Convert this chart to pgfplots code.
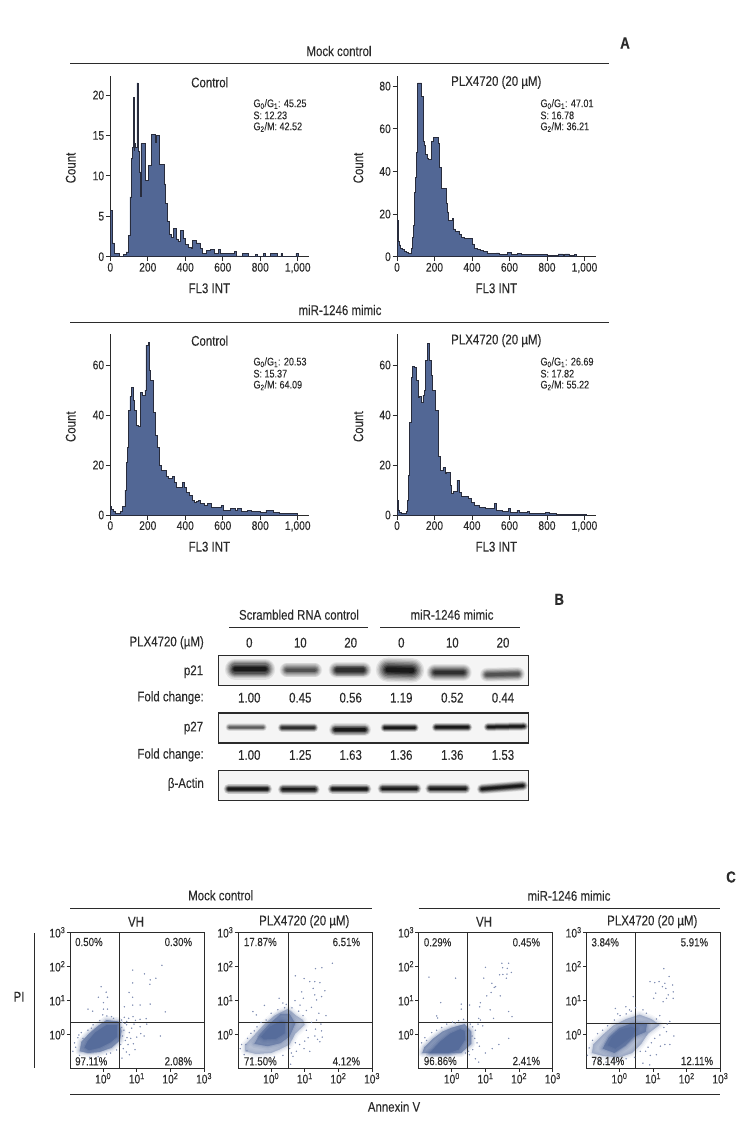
\documentclass[border=0pt]{standalone}
\usepackage{fontspec}
\setmainfont[FakeStretch=0.82,FakeBold=0.15]{Liberation Sans}
\usepackage{pgfplots}
\pgfplotsset{compat=1.18}
\definecolor{txtc}{HTML}{2b2b2b}
\definecolor{histfill}{HTML}{526795}
\definecolor{histline}{HTML}{282C3C}
\definecolor{dotc}{HTML}{7F8DB2}
\definecolor{corec}{HTML}{566C9B}

\newcommand\fs{\fontsize{14}{16}\selectfont}
\newcommand\ft{\fontsize{12.5}{14}\selectfont}
\newcommand\fm{\fontsize{11.8}{13}\selectfont}
\newcommand\fss{\fontsize{11}{12}\selectfont}
\newcommand\fb{\fontsize{16}{18}\selectfont\bfseries}
\newcommand\lab[4][]{\node[anchor=center,inner sep=0pt,text=txtc,font=\fs,#1] at ({(#2)*1pt},{-(#3)*1pt}) {#4};}
\newcommand\hrl[3]{\draw[txtc,line width=1pt] (#1pt,-#3pt) -- (#2pt,-#3pt);}
\newcommand\stats[5]{%
  \lab[anchor=west,font=\fss]{#1}{#2}{G\textsubscript{0}/G\textsubscript{1}: #3}%
  \lab[anchor=west,font=\fss]{#1}{#2+11.4}{S: #4}%
  \lab[anchor=west,font=\fss]{#1}{#2+23}{G\textsubscript{2}/M: #5}}

\pgfplotsset{
  hist/.style={
    scale only axis,width=198.7pt,anchor=origin,
    axis lines=left,axis line style={-,txtc,line width=0.9pt},
    tick align=outside,major tick length=4.5pt,tick style={txtc,line width=0.8pt},
    xmin=0,xmax=1060,ymin=0,
    xtick={0,200,400,600,800,1000},
    xticklabels={0,200,400,600,800,{1,000}},
    tick label style={font=\ft,text=txtc},
    /pgf/number format/assume math mode=true,
    every tick label/.append style={inner sep=1.5pt},
    clip=false},
  bar outline/.style={const plot,fill=histfill,draw=histline,line width=0.7pt},
  blot/.style={
    scale only axis,width=309.6pt,height=30pt,anchor=north west,
    xmin=0,xmax=929,ymin=0,ymax=90,y dir=reverse,
    xtick=\empty,ytick=\empty,
    axis line style={txtc,line width=1.1pt},
    axis background/.style={fill=black!4}},
  scat/.style={
    scale only axis,width=134pt,height=136pt,anchor=north west,
    xmin=-0.985,xmax=3,ymin=-1,ymax=3,
    xtick={0,1,2,3},ytick={0,1,2,3},
    xticklabels={10\textsuperscript{0},10\textsuperscript{1},10\textsuperscript{2},10\textsuperscript{3}},
    yticklabels={10\textsuperscript{0},10\textsuperscript{1},10\textsuperscript{2},10\textsuperscript{3}},
    tick pos=left,tick align=outside,major tick length=3.5pt,
    tick style={txtc,line width=0.8pt},
    axis line style={txtc,line width=0.9pt},
    tick label style={font=\ft,text=txtc,inner sep=1pt}},
  dots/.style={only marks,color=dotc,mark=*,mark size=0.48pt},
  quad/.style={txtc,line width=0.9pt,forget plot},
}
% soft band on a blot, stacked strokes
\newcommand\band[6]{%
  \addplot[line cap=round,#6,opacity=.08,line width=#5*1.75pt] coordinates {(#1,#2)(#3,#4)};
  \addplot[line cap=round,#6,opacity=.1,line width=#5*1.55pt] coordinates {(#1,#2)(#3,#4)};
  \addplot[line cap=round,#6,opacity=.13,line width=#5*1.35pt] coordinates {(#1,#2)(#3,#4)};
  \addplot[line cap=round,#6,opacity=.17,line width=#5*1.15pt] coordinates {(#1,#2)(#3,#4)};
  \addplot[line cap=round,#6,opacity=.22,line width=#5*.95pt] coordinates {(#1,#2)(#3,#4)};
  \addplot[line cap=round,#6,opacity=.28,line width=#5*.75pt] coordinates {(#1,#2)(#3,#4)};
  \addplot[line cap=round,#6,opacity=.35,line width=#5*.55pt] coordinates {(#1,#2)(#3,#4)};
  \addplot[line cap=round,#6,opacity=.5,line width=#5*.35pt] coordinates {(#1,#2)(#3,#4)};
}
% dense part of a dot cloud: polygon with a soft rim
\newcommand\cloud[2]{%
  \addplot[corec,fill=corec,line join=round,opacity=#1*.2,line width=8pt,forget plot] coordinates {#2} --cycle;
  \addplot[corec,fill=corec,line join=round,opacity=#1*.25,line width=5pt,forget plot] coordinates {#2} --cycle;
  \addplot[corec,fill=corec,line join=round,opacity=#1*.35,line width=2.5pt,forget plot] coordinates {#2} --cycle;
  \addplot[corec,fill=corec,draw=none,opacity=#1,forget plot] coordinates {#2} --cycle;
}

\begin{document}
\begin{tikzpicture}
\path[use as bounding box] (0pt,0pt) rectangle (750pt,-1140pt);

%% panel A
\lab{339}{51}{Mock control}
\hrl{70}{609}{63.7}
\lab[font=\fb]{625}{43}{A}

\begin{axis}[hist,at={(110.3pt,-256.7pt)},height=181pt,ymax=22.4,ytick={0,5,10,15,20}]
\addplot[bar outline] coordinates {
(0,5.7)(10,1.7)(22,0.4)(50,0)(70,0.3)(85,0.6)(98,2.6)(105,7.4)(112,12.2)(118,13.5)(122,19.7)(126,13.2)(129,14)(135,13.5)
(142,21.5)(149,13)(157,10.5)(160,7.5)(163,14)(186,9.4)(203,11.3)(220,15.1)(238,14.2)(247,15)(264,11.4)(286,9)(295,6.6)
(306,4.4)(315,2.8)(324,2.4)(337,3.5)(351,2.2)(362,1.9)(373,3.3)(390,2.3)(400,1.5)(415,1.2)(430,1.0)(440,2.0)(461,1.7)
(478,1.0)(490,0.4)(515,0.8)(535,0.9)(555,0.4)(575,0.9)(585,0.4)(660,0.7)(675,0.1)(705,0.4)(735,0)(775,0.3)(785,0)
(815,0.4)(825,0)(855,0.4)(890,0)(910,0.4)(920,0)(990,0.4)(1005,0)} \closedcycle;
\end{axis}
\lab{209.7}{82.3}{Control}
\stats{253.3}{104}{45.25}{12.23}{42.52}
\lab[rotate=90]{70.7}{168}{Count}
\lab{209.3}{288.3}{FL3 INT}

\begin{axis}[hist,at={(397pt,-256.7pt)},height=181pt,ymax=84.9,ytick={0,20,40,60,80}]
\addplot[bar outline] coordinates {
(0,17)(5,7)(12,5.5)(20,4)(30,3.5)(40,2.5)(50,2)(60,1.5)(75,4)(82,9)(88,14.5)(95,30)(100,37)(105,49)(110,81.5)(132,75)
(140,54)(146,52)(152,48)(160,46)(165,45.5)(185,54)(195,56)(221,53)(225,42)(235,32)(261,25)(270,21)(275,17)(295,18)
(300,13)(310,12)(330,10.5)(345,9)(360,8.5)(400,6)(410,4)(430,3.5)(445,3)(460,2.5)(480,1.5)(530,1.8)(545,1)(590,2)
(610,1)(640,1.5)(665,1)(750,1.2)(800,0.7)(860,1.3)(885,0.8)(895,1.3)(920,0.6)(945,1.2)(955,0)} \closedcycle;
\end{axis}
\lab{496.3}{82.3}{PLX4720 (20 µM)}
\stats{540.3}{104}{47.01}{16.78}{36.21}
\lab[rotate=90]{358.3}{168}{Count}
\lab{496.3}{288.3}{FL3 INT}

\lab{340}{310}{miR-1246 mimic}
\hrl{70}{609}{322}

\begin{axis}[hist,at={(110.3pt,-515pt)},height=181pt,ymax=72.4,ytick={0,20,40,60}]
\addplot[bar outline] coordinates {
(0,3.3)(8,2.3)(15,1.5)(25,0.7)(55,1.5)(65,3.5)(78,10)(85,21)(90,27)(95,42)(105,47.5)(112,51)(125,46)(130,42)(140,36)
(150,35.5)(160,49)(170,48)(185,50)(190,68)(205,69)(210,58)(215,54)(230,41)(240,32)(250,27)(262,20)(270,18)(300,15.5)
(310,14.5)(330,15.5)(340,13)(350,11)(385,13)(395,11)(405,9)(420,8)(440,6)(450,5)(460,5.5)(470,6)(480,4.5)(500,4)
(520,4.5)(540,3)(590,3.7)(605,1.8)(640,2.5)(665,2)(680,2.8)(700,1.5)(730,2)(755,1.3)(800,1)(830,2)(850,1.7)(870,1)
(900,0.8)(1000,0)} \closedcycle;
\end{axis}
\lab{209.7}{340.7}{Control}
\stats{253.3}{362.3}{20.53}{15.37}{64.09}
\lab[rotate=90]{70.7}{426.7}{Count}
\lab{209.3}{546.7}{FL3 INT}

\begin{axis}[hist,at={(397pt,-515pt)},height=181pt,ymax=72.4,ytick={0,20,40,60}]
\addplot[bar outline] coordinates {
(0,6)(8,2)(12,1.2)(25,0.7)(50,1.5)(55,6)(60,16)(68,37)(75,55)(82,59.5)(90,59)(105,54)(115,47)(120,47.5)(130,45)(138,48)
(145,50)(150,62)(162,68.5)(175,62)(185,56)(190,50)(205,42)(220,23.5)(230,18)(245,19)(260,16.5)(265,17)(285,12)(290,8.5)
(300,9.5)(320,14)(332,9)(345,7.5)(380,6.5)(395,5)(415,4)(440,3)(470,2.5)(520,4.5)(530,2)(560,1.3)(595,2.5)(605,1)
(640,2)(655,1)(695,1.5)(705,0.7)(790,1)(815,0.5)(825,0.8)(850,0.3)(1010,0)} \closedcycle;
\end{axis}
\lab{496.3}{340.7}{PLX4720 (20 µM)}
\stats{540.3}{362.3}{26.69}{17.82}{55.22}
\lab[rotate=90]{358.3}{426.7}{Count}
\lab{496.3}{546.7}{FL3 INT}

%% panel B
\lab[font=\fb]{559.3}{599.3}{B}
\lab{299}{614.7}{Scrambled RNA control}
\lab{452}{614.7}{miR-1246 mimic}
\hrl{229.3}{368.3}{627.3}
\hrl{380}{519.7}{627.3}
\lab[anchor=east]{204}{642.7}{PLX4720 (µM)}
\foreach \xx/\vv in {249.3/0,300.3/10,350.7/20,401.3/0,452.3/10,503/20}{\lab{\xx}{642.7}{\vv}}

\begin{axis}[blot,at={(218.7pt,-655.7pt)}]
\band{50}{40}{138}{40}{12}{black}
\band{205}{43}{288}{43}{8.5}{black!75}
\band{355}{43}{433}{43}{9.5}{black!90}
\band{508}{42}{580}{44}{14}{black}
\band{650}{50}{733}{50}{10}{black!90}
\band{805}{57}{898}{55}{8}{black!75}
\end{axis}
\lab[anchor=east]{203.3}{671.7}{p21}
\lab[anchor=east]{204}{697.7}{Fold change:}
\foreach \xx/\vv in {249.3/1.00,300.3/0.45,350.7/0.56,401.3/1.19,452.3/0.52,503/0.44}{\lab{\xx}{697.7}{\vv}}

\begin{axis}[blot,at={(218.7pt,-713pt)}]
\band{32}{43}{133}{43}{4.5}{black!70}
\band{190}{44}{286}{44}{5}{black!90}
\band{350}{50}{438}{50}{7.2}{black}
\band{498}{44}{588}{44}{5}{black}
\band{652}{43}{748}{43}{5}{black}
\band{808}{42}{916}{40}{5}{black}
\end{axis}
\lab[anchor=east]{203.3}{728}{p27}
\lab[anchor=east]{204}{755}{Fold change:}
\foreach \xx/\vv in {249.3/1.00,300.3/1.25,350.7/1.63,401.3/1.36,452.3/1.36,503/1.53}{\lab{\xx}{755}{\vv}}

\begin{axis}[blot,at={(218.7pt,-770.3pt)}]
\band{30}{56}{145}{56}{6}{black}
\band{193}{57}{288}{57}{6}{black}
\band{342}{56}{443}{56}{6}{black}
\band{492}{55}{593}{55}{6}{black}
\band{635}{55}{740}{55}{6}{black}
\band{790}{56}{913}{46}{6}{black}
\end{axis}
\lab[anchor=east]{204}{784.3}{β-Actin}

%% panel C
\lab[font=\fb]{731}{877}{C}
\lab{220.7}{895.3}{Mock control}
\hrl{70}{371.7}{908}
\lab{569}{895.7}{miR-1246 mimic}
\hrl{418.7}{720}{908}
\lab{136}{921.7}{VH}
\lab{304.3}{921.7}{PLX4720 (20 µM)}
\lab{484}{921.7}{VH}
\lab{652.3}{921.7}{PLX4720 (20 µM)}
\lab{19}{996.7}{PI}
\draw[txtc,line width=1pt] (34pt,-933.3pt) -- (34pt,-1068.3pt);
\hrl{70}{720}{1094}
\lab{394}{1106.7}{Annexin V}

\begin{axis}[scat,at={(70pt,-932.3pt)}]
\cloud{.5}{(-0.7,-0.5)(-0.65,-0.22)(-0.42,0.02)(-0.15,0.25)(0.1,0.42)(0.45,0.38)(0.55,0.1)(0.5,-0.18)(0.25,-0.4)(-0.1,-0.52)(-0.45,-0.55)}
\cloud{1}{(-0.55,-0.39)(-0.47,-0.22)(-0.24,0.05)(0.11,0.28)(0.42,0.28)(0.42,-0.07)(0.21,-0.24)(-0.09,-0.39)(-0.42,-0.47)}
\addplot[dots] coordinates {
(-0.06,1.40)(0.09,1.24)(-0.14,1.09)(0.13,1.09)(-0.45,0.74)(-0.31,0.68)(0.01,0.93)(0.13,0.74)(0.01,0.74)(-0.01,0.57)(0.11,0.54)(0.31,0.47)(0.25,0.52)
(1.75,2.03)(0.88,1.89)(1.23,1.78)(1.57,1.65)(1.40,1.60)(1.39,1.47)(0.88,1.51)(0.77,1.23)(0.88,1.09)(0.63,0.81)(0.88,0.86)(1.10,0.86)(1.40,0.89)(1.85,0.66)
(0.89,0.52)(0.63,0.50)(0.76,0.47)(1.10,0.44)(1.28,0.46)(0.96,0.41)(0.55,0.42)(0.7,0.38)
(0.55,0.2)(0.62,0.12)(0.7,0.28)(0.78,0.05)(0.85,0.18)(0.58,-0.05)(0.66,-0.18)(0.74,-0.3)(0.6,-0.42)(0.82,-0.12)(0.9,-0.28)(1.0,-0.08)(1.12,0.02)(1.22,-0.05)
(0.69,-0.52)(0.78,-0.6)(0.95,-0.45)(1.1,0.22)(1.3,0.3)(1.7,-0.05)(0.56,-0.7)(0.65,0.32)(0.92,0.3)(0.52,-0.3)(0.57,0.35)(0.71,-0.1)
(-0.75,-0.1)(-0.72,-0.02)(-0.82,-0.38)(-0.85,-0.25)(-0.65,0.05)(-0.6,-0.12)(-0.45,0.12)(-0.35,0.18)(-0.3,0.28)(-0.1,0.4)(-0.9,-0.5)(-0.7,-0.62)(-0.4,-0.68)(-0.15,-0.66)(0.1,-0.58)(0.22,-0.55)(0.4,-0.46)
};
\addplot[quad] coordinates {(0.488,-1)(0.488,3)};
\addplot[quad] coordinates {(-0.985,0.343)(3,0.343)};
\end{axis}
\lab[anchor=west,font=\fm]{75}{942}{0.50\%}
\lab[anchor=east,font=\fm]{192.3}{942}{0.30\%}
\lab[anchor=west,font=\fm]{75}{1061.3}{97.11\%}
\lab[anchor=east,font=\fm]{192.3}{1061.3}{2.08\%}

\begin{axis}[scat,at={(238pt,-932.3pt)}]
\cloud{.28}{(-0.78,-0.5)(-0.78,-0.32)(-0.5,-0.02)(-0.2,0.3)(0.1,0.55)(0.5,0.75)(0.75,0.55)(0.95,0.42)(1.0,0.28)(0.72,0.02)(0.55,-0.3)(0.25,-0.45)(0,-0.55)(-0.45,-0.58)}
\cloud{.45}{(-0.5,-0.28)(-0.35,-0.02)(-0.08,0.28)(0.28,0.6)(0.55,0.6)(0.72,0.32)(0.55,-0.06)(0.28,-0.26)(-0.1,-0.35)}
\cloud{1}{(-0.3,-0.07)(-0.04,0.22)(0.3,0.4)(0.42,0.36)(0.4,0.03)(0.14,-0.13)(-0.22,-0.15)}
\addplot[dots] coordinates {
(1.82,2.09)(1.32,1.93)(1.51,1.96)(0.72,1.72)(0.98,1.64)(1.15,1.55)(1.30,1.55)(1.45,1.52)(1.25,1.35)(1.60,1.28)(0.91,1.25)(1.30,1.16)(1.50,1.11)(1.35,1.01)(0.96,1.06)
(0.24,1.06)(0.71,0.99)(0.86,0.86)(1.20,0.79)(-0.54,0.67)(-0.44,0.57)(-0.2,0.85)(0.35,0.92)(0.45,0.88)(1.42,0.62)(1.63,0.55)(1.05,0.7)
(1.2,0.35)(1.35,0.42)(1.48,0.3)(1.32,0.15)(1.5,0.1)(1.52,-0.08)(1.38,-0.15)(1.45,-0.22)(1.1,-0.1)(1.0,-0.2)(0.85,-0.3)(0.75,-0.5)(1.15,-0.5)(0.98,-0.42)(0.6,-0.55)(0.58,-0.88)(1.3,-0.05)(1.05,0.12)
(-0.75,-0.3)(-0.88,-0.3)(-0.6,0.03)(-0.5,0.1)(-0.42,0.22)(-0.3,0.35)(-0.15,0.42)(0.0,0.62)(0.2,0.72)(0.4,0.78)(0.62,0.78)(0.82,0.68)(0.95,0.55)
(-0.92,-0.42)(-0.8,-0.6)(-0.55,-0.7)(-0.2,-0.68)(0.1,-0.66)(0.35,-0.62)(0.55,-0.42)(0.72,-0.25)(0.65,-0.65)(-0.7,-0.12)(-0.72,-0.48)
};
\addplot[quad] coordinates {(0.517,-1)(0.517,3)};
\addplot[quad] coordinates {(-0.985,0.343)(3,0.343)};
\end{axis}
\lab[anchor=west,font=\fm]{243.7}{942}{17.87\%}
\lab[anchor=east,font=\fm]{360.3}{942}{6.51\%}
\lab[anchor=west,font=\fm]{243.7}{1061.3}{71.50\%}
\lab[anchor=east,font=\fm]{360.3}{1061.3}{4.12\%}

\begin{axis}[scat,at={(418.7pt,-932.3pt)}]
\cloud{.5}{(-0.88,-0.55)(-0.82,-0.38)(-0.55,-0.12)(-0.28,0.08)(0,0.2)(0.38,0.3)(0.58,0.08)(0.58,-0.28)(0.28,-0.55)}
\cloud{1}{(-0.66,-0.55)(-0.35,-0.22)(-0.05,0.02)(0.25,0.15)(0.38,0.1)(0.4,-0.15)(0.2,-0.45)(-0.1,-0.55)}
\addplot[dots] coordinates {
(-0.68,1.68)(0.11,1.65)(1.0,1.97)(1.49,2.09)(1.69,2.09)(1.51,1.96)(1.65,1.94)(1.77,1.82)(1.42,1.75)(1.52,1.76)(1.64,1.77)(0.95,1.65)(1.19,1.5)(1.62,1.65)(1.26,1.38)(1.30,1.4)
(1.04,1.13)(1.44,1.13)(1.17,1.23)(0.85,0.93)(0.83,0.81)(0.53,0.86)(-0.33,0.93)(0.28,0.89)(0.28,0.74)(-0.45,0.54)(-0.42,0.48)(1.14,0.72)(1.69,0.67)(1.79,0.52)(1.24,0.47)(0.8,0.47)(0.85,0.42)(1.69,-0.12)
(0.55,0.3)(0.62,0.22)(0.7,0.12)(0.78,0.3)(0.92,0.25)(0.6,-0.05)(0.68,-0.12)(0.75,-0.25)(0.82,-0.35)(0.62,-0.45)(0.52,-0.6)(0.7,-0.72)(0.8,-0.82)(1.0,-0.55)(1.2,-0.42)(1.4,-0.3)
(-0.8,-0.1)(-0.6,0.05)(-0.45,0.12)(-0.3,0.2)(-0.15,0.3)(0.02,0.36)(0.2,0.4)(0.35,0.44)(-0.9,-0.25)(-0.75,-0.18)(0.1,0.33)(0.5,-0.5)(0.4,-0.55)
};
\addplot[quad] coordinates {(0.468,-1)(0.468,3)};
\addplot[quad] coordinates {(-0.985,0.353)(3,0.353)};
\end{axis}
\lab[anchor=west,font=\fm]{423.7}{942.3}{0.29\%}
\lab[anchor=east,font=\fm]{540.3}{942.3}{0.45\%}
\lab[anchor=west,font=\fm]{423.7}{1061}{96.86\%}
\lab[anchor=east,font=\fm]{540.3}{1061}{2.41\%}

\begin{axis}[scat,at={(586.3pt,-932.3pt)}]
\cloud{.3}{(-0.82,-0.55)(-0.78,-0.3)(-0.5,-0.02)(-0.18,0.26)(0.2,0.45)(0.6,0.58)(0.95,0.45)(1.2,0.28)(0.85,0.02)(0.65,-0.28)(0.38,-0.55)(0,-0.68)(-0.48,-0.64)}
\cloud{.55}{(-0.5,-0.42)(-0.32,-0.1)(0,0.18)(0.4,0.34)(0.82,0.3)(0.78,0.07)(0.42,-0.08)(0.18,-0.33)(-0.15,-0.55)}
\cloud{1}{(-0.35,-0.32)(-0.22,-0.08)(0.02,0.13)(0.35,0.22)(0.5,0.16)(0.38,-0.05)(0.12,-0.25)(-0.12,-0.42)}
\addplot[dots] coordinates {
(1.32,1.93)(1.48,1.7)(0.91,1.55)(1.05,1.52)(1.18,1.55)(1.35,1.5)(1.58,1.45)(1.38,1.35)(1.28,1.4)(1.6,1.25)(1.45,1.16)(1.08,1.21)(1.6,1.06)(1.4,1.06)(1.30,0.96)(1.02,1.06)
(0.41,1.11)(-0.12,0.76)(0.19,0.81)(-0.05,0.6)(0.3,0.72)(0.48,0.78)(0.7,0.72)(1.2,0.55)(1.5,0.38)(1.62,-0.05)(1.4,0.08)(1.2,-0.02)(1.05,-0.12)(0.95,-0.25)(0.85,-0.38)(0.78,-0.5)(0.92,-0.62)(0.7,-0.85)(0.9,-0.9)(1.5,-0.3)(1.35,-0.3)(1.22,-0.35)(1.1,-0.6)
(-0.95,-0.62)(-0.9,-0.4)(-0.8,-0.18)(-0.65,0.02)(-0.5,0.12)(-0.35,0.25)(-0.15,0.42)(0.02,0.55)(0.2,0.6)(0.35,0.68)(0.8,0.62)(1.1,0.45)(1.32,0.2)(1.42,0.3)
(-0.75,-0.8)(-0.4,-0.82)(-0.1,-0.82)(0.2,-0.72)(0.45,-0.68)(0.62,-0.5)(-0.6,-0.75)
};
\addplot[quad] coordinates {(0.478,-1)(0.478,3)};
\addplot[quad] coordinates {(-0.985,0.314)(3,0.314)};
\end{axis}
\lab[anchor=west,font=\fm]{591.3}{942.3}{3.84\%}
\lab[anchor=east,font=\fm]{708.3}{942.3}{5.91\%}
\lab[anchor=west,font=\fm]{591.3}{1061}{78.14\%}
\lab[anchor=east,font=\fm]{713.3}{1061}{12.11\%}
\end{tikzpicture}
\end{document}
